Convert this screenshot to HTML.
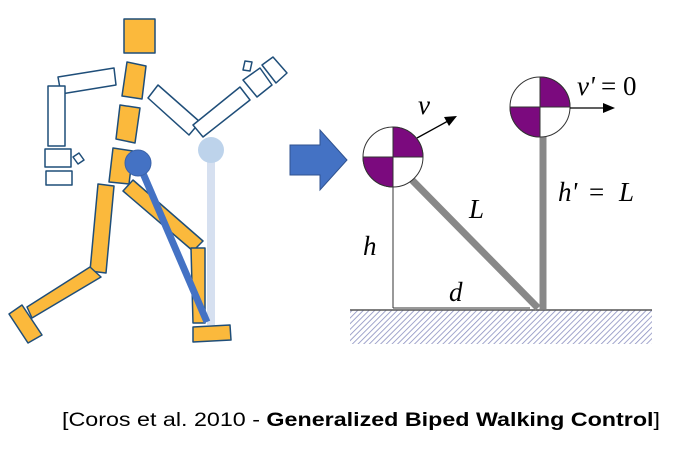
<!DOCTYPE html>
<html><head><style>body{margin:0;background:#fff;}svg{display:block}</style></head><body>
<svg width="693" height="457" viewBox="0 0 693 457" xmlns="http://www.w3.org/2000/svg">
<defs>
<pattern id="hat" width="4" height="4" patternUnits="userSpaceOnUse" patternTransform="rotate(45)">
<rect width="4" height="4" fill="#fff"/><line x1="0" y1="0" x2="0" y2="4" stroke="#8a8fc0" stroke-width="1.6"/></pattern>
</defs>
<g stroke="#1f4e79" stroke-width="1.5" stroke-linejoin="round">
<g fill="#fff">
<polygon points="58,77 114,68 116,85 61,94"/>
<polygon points="48,86 65,86 65,146 48,146"/>
<polygon points="45,149 71,149 71,167 45,167"/>
<polygon points="46,171 72,171 72,185 46,185"/>
<polygon points="73,157 79,153 84,160 78,164"/>
<polygon points="158,85 200,122 189,135 148,98"/>
<polygon points="193,125 240,87 250,100 203,137"/>
<polygon points="243,80 260,68 272,85 257,97"/>
<polygon points="262,65 273,57 287,73 276,83"/>
<polygon points="245,61 252,62 250,71 243,70"/>
</g>
<g fill="#fbb93c">
<rect x="124" y="19" width="31" height="34"/>
<polygon points="127,62 146,66 142,99 122,96"/>
<polygon points="120,105 140,108 135,143 116,139"/>
<polygon points="113,148 133,151 129,184 109,182"/>
<polygon points="98,184 114,186 106,273 90,271"/>
<polygon points="90,267 101,277 32,318 27,307"/>
<polygon points="9,314 22,305 42,335 28,343"/>
<polygon points="123,191 133,180 203,241 193,251"/>
<polygon points="191,248 205,248 205,323 193,323"/>
<polygon points="193,327 230,325 231,340 193,342"/>
</g>
</g>
<line x1="211" y1="150" x2="211" y2="325" stroke="#d6e0f0" stroke-width="8"/>
<circle cx="211" cy="150" r="13" fill="#bdd3eb"/>
<line x1="139" y1="164" x2="207" y2="322" stroke="#4472c4" stroke-width="7"/>
<circle cx="138" cy="163" r="13" fill="#4472c4" stroke="#3a62a8"/>
<polygon points="290,145 320,145 320,130 347,160 320,190 320,175 290,175" fill="#4472c4" stroke="#2f528f"/>
<rect x="350" y="310" width="302" height="34" fill="url(#hat)"/>
<line x1="350" y1="310" x2="652" y2="310" stroke="#555" stroke-width="1.5"/>
<line x1="393" y1="185" x2="393" y2="308" stroke="#333" stroke-width="1"/>
<line x1="393" y1="308" x2="530" y2="308" stroke="#333" stroke-width="1"/>
<line x1="410" y1="178" x2="538" y2="308" stroke="#888" stroke-width="7"/>
<line x1="543" y1="135" x2="543" y2="309" stroke="#888" stroke-width="7"/>
<g stroke="#333" stroke-width="1">
<circle cx="393" cy="157" r="30" fill="#fff"/>
<path d="M393,157 L393,127 A30,30 0 0 1 423,157 Z" fill="#7b0a7e"/>
<path d="M393,157 L363,157 A30,30 0 0 0 393,187 Z" fill="#7b0a7e"/>
<circle cx="540" cy="107" r="30" fill="#fff"/>
<path d="M540,107 L540,77 A30,30 0 0 1 570,107 Z" fill="#7b0a7e"/>
<path d="M540,107 L510,107 A30,30 0 0 0 540,137 Z" fill="#7b0a7e"/>
</g>
<line x1="417" y1="138" x2="448" y2="121" stroke="#000" stroke-width="1.3"/>
<polygon points="457,116 444,117 449,126" fill="#000"/>
<line x1="570" y1="108" x2="605" y2="108" stroke="#000" stroke-width="1.3"/>
<polygon points="615,108 603,103 603,113" fill="#000"/>
<g font-family="Liberation Serif, serif" font-style="italic" font-size="27" fill="#000">
<text x="418" y="114">v</text>
<text x="577" y="95">v'</text>
<text x="469" y="218">L</text>
<text x="363" y="255">h</text>
<text x="449" y="301">d</text>
<text x="558" y="201">h'</text>
<text x="619" y="201">L</text>
</g>
<g font-family="Liberation Serif, serif" font-size="27" fill="#000">
<text x="601" y="95">= 0</text>
<text x="589" y="201">=</text>
</g>
<text x="62" y="426" font-family="Liberation Sans, sans-serif" font-size="19" fill="#000" textLength="598" lengthAdjust="spacingAndGlyphs">[Coros et al. 2010 - <tspan font-weight="bold">Generalized Biped Walking Control</tspan>]</text>
</svg>
</body></html>
